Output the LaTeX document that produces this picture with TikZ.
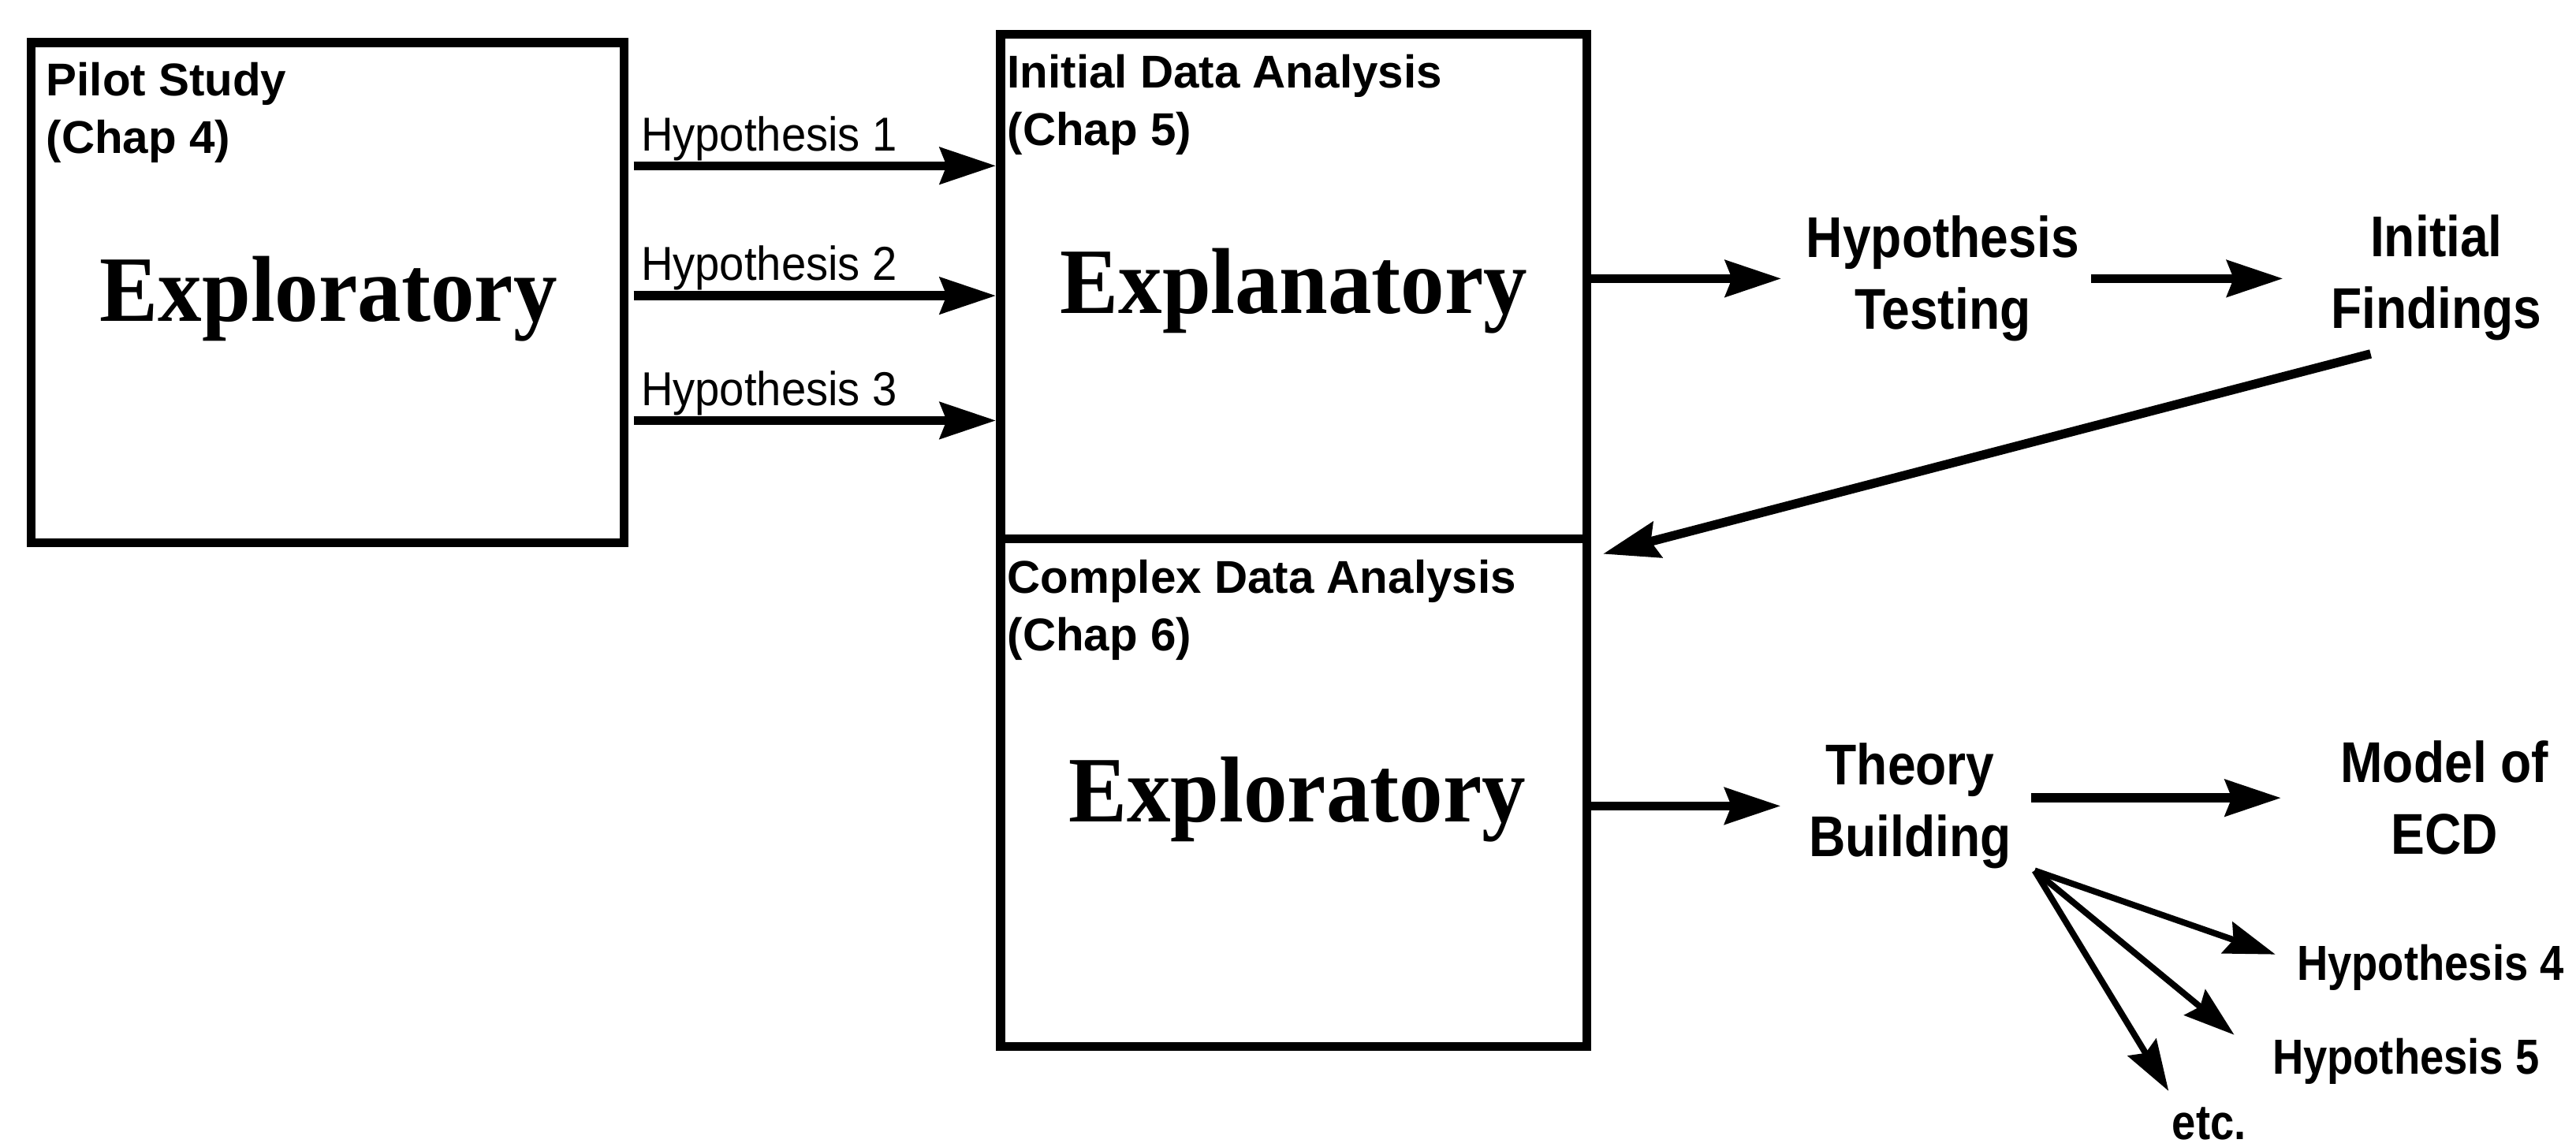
\documentclass[tikz,border=0pt]{standalone}
\usepackage{fontspec}
\setmainfont{Liberation Sans}
\newfontfamily\hdrfont{Liberation Sans}
\newfontfamily\lblfont[FakeStretch=0.88]{Liberation Sans}
\newfontfamily\hypfont[FakeStretch=0.93]{Liberation Sans}
\newfontfamily\smlfont[FakeStretch=0.87]{Liberation Sans}
\newfontfamily\bigfont[FakeStretch=0.935]{Liberation Serif}
\usetikzlibrary{arrows.meta,calc}
\tikzset{
  box/.style={draw, line width=5.5pt, inner sep=0pt},
  hdr/.style={font=\hdrfont\bfseries\fontsize{28}{35}\selectfont, align=left, anchor=north west, inner sep=0pt},
  big/.style={font=\bigfont\bfseries\fontsize{57}{60}\selectfont, anchor=base, inner sep=0pt},
  lbl/.style={font=\lblfont\bfseries\fontsize{35}{43.5}\selectfont, align=center, inner sep=0pt},
  hyp/.style={font=\hypfont\fontsize{29}{34}\selectfont, anchor=base west, inner sep=0pt},
  hypb/.style={font=\smlfont\bfseries\fontsize{30}{34}\selectfont, anchor=base west, inner sep=0pt},
  arr/.style={line width=5.5pt, -{Stealth[length=34pt,width=22pt,inset=4pt]}},
  fanarr/.style={line width=3.8pt, -{Stealth[length=31pt,width=20pt,inset=4pt]}},
}
\begin{document}
\begin{tikzpicture}[x=1pt,y=-1pt]
\fill[white] (0,0) rectangle (1568,698);
% boxes
\node[box, minimum width=361pt, minimum height=304.5pt] (pilot) at (199.5,178.25) {};
\node[box, minimum width=357pt, minimum height=307pt] (init) at (787.5,174.5) {};
\node[box, minimum width=357pt, minimum height=309pt] (cda) at (787.5,482.5) {};
% headers
\node[hdr] (pilothdr) at (28,37.7) {Pilot Study\\(Chap 4)};
\node[hdr] (inithdr) at (613,33) {Initial Data Analysis\\(Chap 5)};
\node[hdr] (cdahdr) at (613,340.6) {Complex Data Analysis\\(Chap 6)};
% big words
\node[big] (exp1) at (200,195.5) {Exploratory};
\node[big] (expl) at (787.5,190.6) {Explanatory};
\node[big] (exp2) at (789.5,500.4) {Exploratory};
% hypotheses 1-3
\node[hyp] (h1) at (390,91.7) {Hypothesis 1};
\node[hyp] (h2) at (390,170.8) {Hypothesis 2};
\node[hyp] (h3) at (390,246.8) {Hypothesis 3};
% right labels
\node[lbl] (ht) at (1182.5,169.6) {Hypothesis\\Testing};
\node[lbl] (ifind) at (1483,169.1) {Initial\\Findings};
\node[lbl] (tb) at (1162.7,490.7) {Theory\\Building};
\node[lbl] (mecd) at (1488,485.8) {Model of\\ECD};
\node[hypb] (h4) at (1398,597) {Hypothesis 4};
\node[hypb] (h5) at (1383,654) {Hypothesis 5};
\node[hypb] (etc) at (1322,694) {etc.};
% arrows
\draw[arr, shorten <=3pt] ($(pilot.east |- h1.south)+(0,3)$) -- ($(init.west |- h1.south)+(0,3)$);
\draw[arr, shorten <=3pt] ($(pilot.east |- h2.south)+(0,3)$) -- ($(init.west |- h2.south)+(0,3)$);
\draw[arr, shorten <=3pt] ($(pilot.east |- h3.south)+(0,3)$) -- ($(init.west |- h3.south)+(0,3)$);
\draw[arr, shorten >=15pt] (init.east |- ht.west) -- (ht.west);
\draw[arr, shorten <=7pt, shorten >=29pt] (ht.east) -- (ht.east -| ifind.west);
\draw[arr] ([xshift=-40pt,yshift=-8pt]ifind.south) -- ([xshift=7pt,yshift=-12pt]cda.north east);
\draw[arr, shorten >=17pt] (cda.east |- tb.west) -- (tb.west);
\draw[arr, shorten <=12pt, shorten >=36pt] (tb.east |- mecd.west) -- (mecd.west);
\coordinate (fan) at ([xshift=14pt,yshift=-1pt]tb.south east);
\draw[fanarr] (fan) -- ([xshift=-13pt,yshift=-6pt]h4.north west);
\draw[fanarr] (fan) -- ([xshift=-23pt,yshift=2pt]h5.north west);
\draw[fanarr] (fan) -- ([xshift=-2pt,yshift=10pt]etc.north west);
\end{tikzpicture}
\end{document}
